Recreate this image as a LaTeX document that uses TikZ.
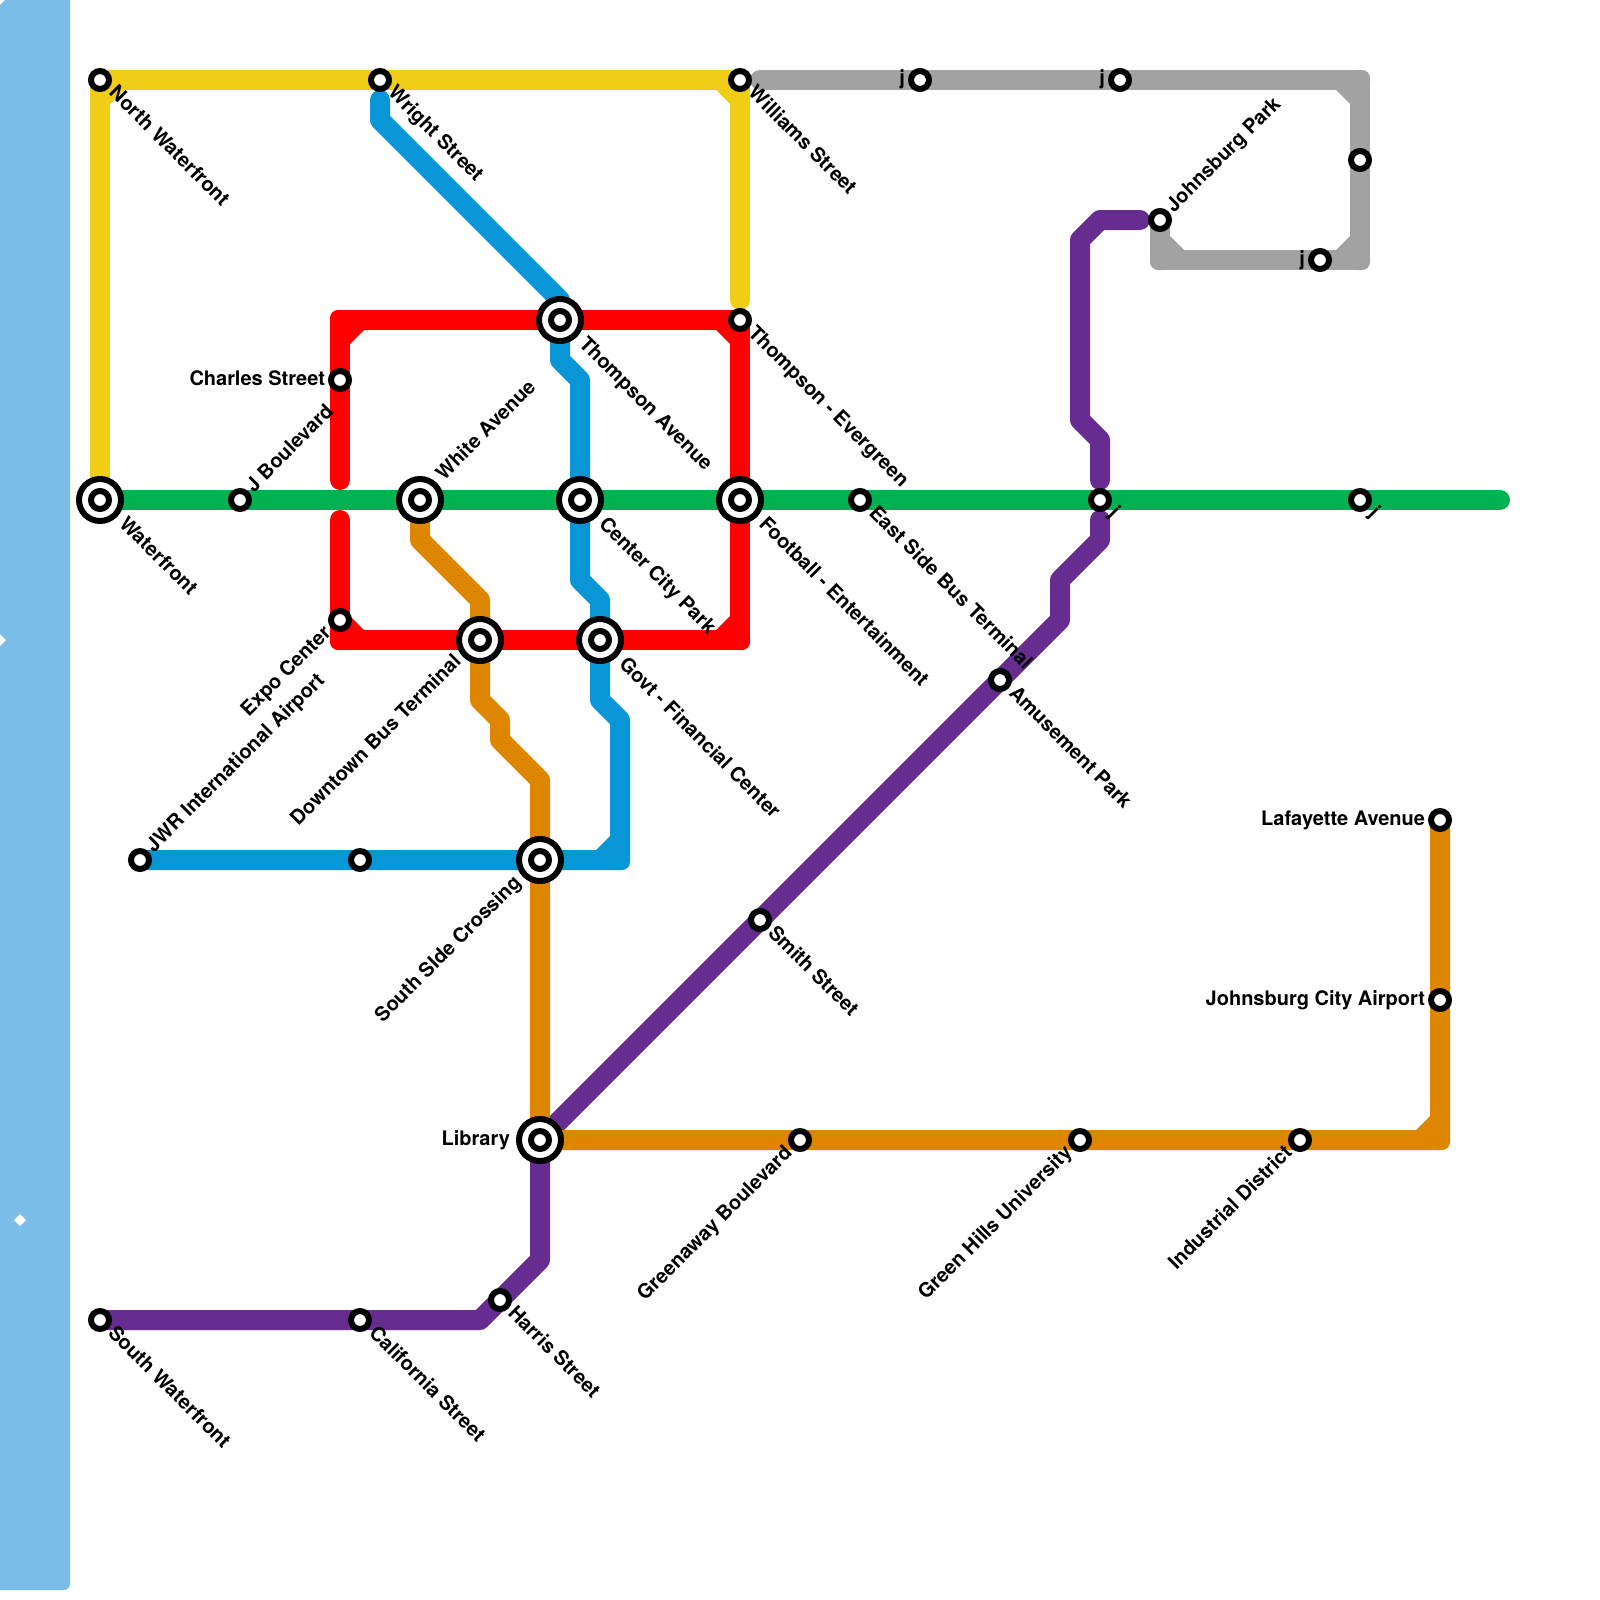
\documentclass[tikz,border=0pt]{standalone}
\usepackage{fontspec}
\setmainfont{TeX Gyre Heros}
\pgfdeclarelayer{bg}
\pgfsetlayers{bg,main}
\definecolor{cWater}{HTML}{7ABDE9}
\definecolor{cYellow}{HTML}{F0CE15}
\definecolor{cRed}{HTML}{FF0000}
\definecolor{cGreen}{HTML}{00B251}
\definecolor{cBlue}{HTML}{0896D7}
\definecolor{cOrange}{HTML}{DF8600}
\definecolor{cPurple}{HTML}{662C90}
\definecolor{cGrey}{HTML}{A2A2A2}
\tikzset{
  metro/.style={line width=20pt,line cap=round,line join=round},
  stop/.style={circle,draw=black,fill=white,line width=6pt,minimum size=18pt,inner sep=0pt,outer sep=0pt},
  ring/.style={circle,draw=black,fill=white,line width=6pt,minimum size=42pt,inner sep=0pt,outer sep=0pt},
  lab/.style={font=\bfseries\fontsize{20pt}{20pt}\selectfont,text=black,inner sep=0pt,outer sep=0pt},
  se/.style={lab,rotate=-45,anchor=base west},
  ne/.style={lab,rotate=45,anchor=base west},
  sw/.style={lab,rotate=45,anchor=base east},
  wl/.style={lab,anchor=base east},
}
% outer corner of a right-angle bend, with its chamfered inner side
\newcommand{\bend}[5]{%
  \fill[#1,rounded corners=8pt] (#2-10,#3-10) rectangle (#2+10,#3+10);
  \fill[#1] (#2+#4*10,#3+#5*10) -- (#2+#4*24,#3+#5*10) -- (#2+#4*10,#3+#5*24) -- cycle;
}
\begin{document}
\begin{tikzpicture}[x=1pt,y=-1pt]
\useasboundingbox (0,0) rectangle (1600,1600);
% interchange rings
\node[ring] (rThompsonAve) at (560,320) {};
\node[ring] (rWaterfront) at (100,500) {};
\node[ring] (rWhite) at (420,500) {};
\node[ring] (rCenterCity) at (580,500) {};
\node[ring] (rFootball) at (740,500) {};
\node[ring] (rDowntown) at (480,640) {};
\node[ring] (rGovt) at (600,640) {};
\node[ring] (rSouthSide) at (540,860) {};
\node[ring] (rLibrary) at (540,1140) {};
% stations
\node[stop] (ThompsonAve) at (560,320) {};
\node[stop] (Waterfront) at (100,500) {};
\node[stop] (White) at (420,500) {};
\node[stop] (CenterCity) at (580,500) {};
\node[stop] (Football) at (740,500) {};
\node[stop] (Downtown) at (480,640) {};
\node[stop] (Govt) at (600,640) {};
\node[stop] (SouthSide) at (540,860) {};
\node[stop] (Library) at (540,1140) {};
\node[stop] (NorthWaterfront) at (100,80) {};
\node[stop] (Wright) at (380,80) {};
\node[stop] (Williams) at (740,80) {};
\node[stop] (jA) at (920,80) {};
\node[stop] (jB) at (1120,80) {};
\node[stop] (JohnsburgPark) at (1160,220) {};
\node[stop] (GreyEast) at (1360,160) {};
\node[stop] (jC) at (1320,260) {};
\node[stop] (Evergreen) at (740,320) {};
\node[stop] (Charles) at (340,380) {};
\node[stop] (JBlvd) at (240,500) {};
\node[stop] (EastSide) at (860,500) {};
\node[stop] (jD) at (1100,500) {};
\node[stop] (jE) at (1360,500) {};
\node[stop] (Expo) at (340,620) {};
\node[stop] (JWR) at (140,860) {};
\node[stop] (BlueMid) at (360,860) {};
\node[stop] (Smith) at (760,920) {};
\node[stop] (Amusement) at (1000,680) {};
\node[stop] (Harris) at (500,1300) {};
\node[stop] (SouthWaterfront) at (100,1320) {};
\node[stop] (California) at (360,1320) {};
\node[stop] (Greenaway) at (800,1140) {};
\node[stop] (GreenHills) at (1080,1140) {};
\node[stop] (Industrial) at (1300,1140) {};
\node[stop] (Lafayette) at (1440,820) {};
\node[stop] (Airport) at (1440,1000) {};
% free ends
\coordinate (redTop) at (340,480);
\coordinate (redBot) at (340,520);
\coordinate (yellowEnd) at (740,300);
\coordinate (greenEnd) at (1500,500);
\coordinate (blueTop) at (380,100);
\coordinate (greyStart) at (760,80);
\coordinate (purpleEnd) at (1140,220);
\coordinate (purpleGapA) at (1100,480);
\coordinate (purpleGapB) at (1100,520);
\begin{pgfonlayer}{bg}
\fill[cWater,rounded corners=6pt] (-20,-20) rectangle (70,1590);
\fill[white] (0,0) -- (5,0) -- (0,5) -- cycle;
\fill[white] (-6,640) -- (0,634) -- (6,640) -- (0,646) -- cycle;
\fill[white] (14,1220) -- (20,1214) -- (26,1220) -- (20,1226) -- cycle;
% purple
\draw[metro,cPurple] (purpleEnd) -- (1100,220) -- (1080,240) -- (1080,420) -- (1100,440) -- (purpleGapA);
\draw[metro,cPurple] (purpleGapB) -- (1100,540) -- (1060,580) -- (1060,620) -- (Amusement.center) -- (Smith.center) -- (Library.center) -- (540,1260) -- (Harris.center) -- (480,1320) -- (California.center) -- (SouthWaterfront.center);
% yellow
\bend{cYellow}{100}{80}{1}{1}
\bend{cYellow}{740}{80}{-1}{1}
\draw[metro,cYellow] (Waterfront.center) -- (NorthWaterfront.center) -- (Wright.center) -- (Williams.center) -- (yellowEnd);
% grey
\bend{cGrey}{1360}{80}{-1}{1}
\bend{cGrey}{1360}{260}{-1}{-1}
\bend{cGrey}{1160}{260}{1}{-1}
\draw[metro,cGrey] (greyStart) -- (jA.center) -- (jB.center) -- (1360,80) -- (GreyEast.center) -- (1360,260) -- (jC.center) -- (1160,260) -- (JohnsburgPark.center);
% blue
\bend{cBlue}{620}{860}{-1}{-1}
\draw[metro,cBlue] (blueTop) -- (380,120) -- (560,300) -- (ThompsonAve.center) -- (560,360) -- (580,380) -- (CenterCity.center) -- (580,580) -- (600,600) -- (Govt.center) -- (600,700) -- (620,720) -- (620,860) -- (SouthSide.center) -- (BlueMid.center) -- (JWR.center);
% orange
\bend{cOrange}{1440}{1140}{-1}{-1}
\draw[metro,cOrange] (White.center) -- (420,540) -- (480,600) -- (Downtown.center) -- (480,700) -- (500,720) -- (500,740) -- (540,780) -- (SouthSide.center) -- (Library.center) -- (Greenaway.center) -- (GreenHills.center) -- (Industrial.center) -- (1440,1140) -- (Airport.center) -- (Lafayette.center);
% red
\bend{cRed}{340}{320}{1}{1}
\bend{cRed}{740}{320}{-1}{1}
\bend{cRed}{740}{640}{-1}{-1}
\bend{cRed}{340}{640}{1}{-1}
\draw[metro,cRed] (redTop) -- (Charles.center) -- (340,320) -- (ThompsonAve.center) -- (Evergreen.center) -- (Football.center) -- (740,640) -- (Govt.center) -- (Downtown.center) -- (340,640) -- (Expo.center) -- (redBot);
% green
\draw[metro,cGreen] (Waterfront.center) -- (JBlvd.center) -- (White.center) -- (CenterCity.center) -- (Football.center) -- (EastSide.center) -- (jD.center) -- (jE.center) -- (greenEnd);
\end{pgfonlayer}
% labels: south-east
\node[se] (lNorthWaterfront) at (108,94) {North Waterfront};
\node[se] (lWright) at (387,94) {Wright Street};
\node[se] (lWilliams) at (747,94) {Williams Street};
\node[se] (lThompsonAve) at (578,345) {Thompson Avenue};
\node[se] (lEvergreen) at (747,334) {Thompson - Evergreen};
\node[se] (lWaterfront) at (118,525) {Waterfront};
\node[se] (lCenterCity) at (598,525) {Center City Park};
\node[se] (lFootball) at (758,525) {Football - Entertainment};
\node[se] (lEastSide) at (868,514) {East Side Bus Terminal};
\node[se] (ljD) at (1108,514) {j};
\node[se] (ljE) at (1368,514) {j};
\node[se] (lGovt) at (618,665) {Govt - Financial Center};
\node[se] (lAmusement) at (1008,694) {Amusement Park};
\node[se] (lSmith) at (767,934) {Smith Street};
\node[se] (lHarris) at (507,1314) {Harris Street};
\node[se] (lSouthWaterfront) at (107,1334) {South Waterfront};
\node[se] (lCalifornia) at (368,1334) {California Street};
% labels: north-east
\node[ne] (lJBlvd) at (254,493) {J Boulevard};
\node[ne] (lWhite) at (444,481) {White Avenue};
\node[ne] (lJohnsburgPark) at (1174,213) {Johnsburg Park};
\node[ne] (lJWR) at (154,853) {JWR International Airport};
% labels: south-west
\node[sw] (lExpo) at (332,634) {Expo Center};
\node[sw] (lDowntown) at (462,663) {Downtown Bus Terminal};
\node[sw] (lSouthSide) at (522,884) {South SIde Crossing};
\node[sw] (lGreenaway) at (793,1154) {Greenaway Boulevard};
\node[sw] (lGreenHills) at (1073,1154) {Green Hills University};
\node[sw] (lIndustrial) at (1293,1154) {Industrial District};
% labels: west
\node[wl] (lCharles) at (325,385) {Charles Street};
\node[wl] (lLibrary) at (510,1145) {Library};
\node[wl] (lLafayette) at (1425,825) {Lafayette Avenue};
\node[wl] (lAirport) at (1425,1005) {Johnsburg City Airport};
\node[wl] (ljA) at (905,85) {j};
\node[wl] (ljB) at (1105,85) {j};
\node[wl] (ljC) at (1305,265) {j};
\end{tikzpicture}
\end{document}
